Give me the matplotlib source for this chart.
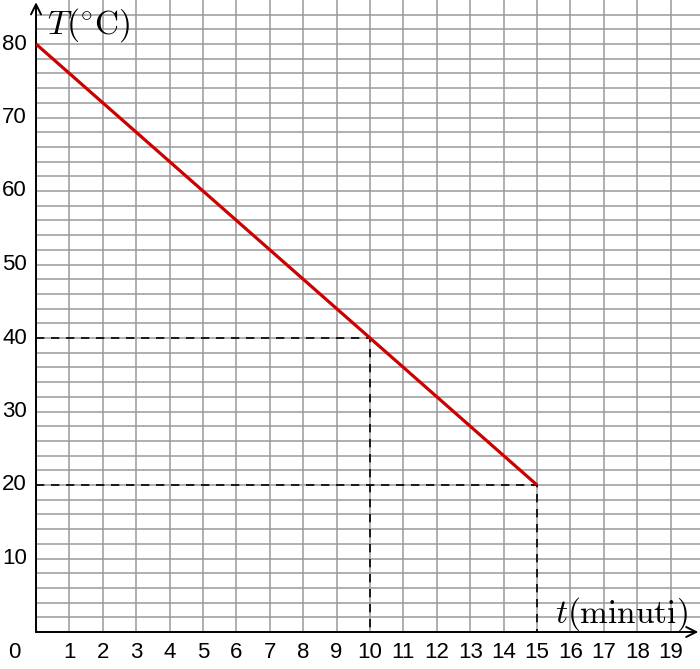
import matplotlib as mpl
mpl.use('Agg')
import matplotlib.pyplot as plt
import numpy as np

# cooling line (minutes, degrees C)
t_line = [0, 15]
T_line = [80, 20]
# dashed reading guides
guide_t = [10, 15]
guide_T = [40, 20]

xticks = list(range(1, 20))
yticks = [10, 20, 30, 40, 50, 60, 70, 80]

plt.rcParams['mathtext.fontset'] = 'cm'
plt.rcParams['font.family'] = ['Liberation Sans', 'DejaVu Sans']

fig = plt.figure(figsize=(7.0, 6.69), dpi=100)
W, H = 700, 669
x0, y0 = 36, 632
xmax = (700 - x0) / 33.4
ymax = y0 / 7.35
ax = fig.add_axes([x0 / W, (H - y0) / H, 1 - x0 / W, y0 / H])
ax.set_xlim(0, xmax)
ax.set_ylim(0, ymax)

# grid
for xv in xticks:
    ax.axvline(xv, color='#9a9a9a', lw=1.1, zorder=1)
for yv in np.arange(2, ymax, 2):
    ax.axhline(yv, color='#9a9a9a', lw=1.1, zorder=1)

for s in ax.spines.values():
    s.set_visible(False)
ax.set_xticks([])
ax.set_yticks([])

# axes with arrows
ax.annotate('', xy=(xmax - 0.05, 0), xytext=(0, 0),
            arrowprops=dict(arrowstyle='->', color='black', lw=1.4,
                            mutation_scale=18, shrinkA=0, shrinkB=0),
            annotation_clip=False, zorder=3)
ax.annotate('', xy=(0, ymax - 0.3), xytext=(0, 0),
            arrowprops=dict(arrowstyle='->', color='black', lw=1.4,
                            mutation_scale=18, shrinkA=0, shrinkB=0),
            annotation_clip=False, zorder=3)

# dashed guides
for gt, gT in zip(guide_t, guide_T):
    ax.plot([0, gt, gt], [gT, gT, 0], color='black', lw=1.2,
            ls=(0, (5, 4)), zorder=2, clip_on=False)

ax.plot(t_line, T_line, color='#cc0000', lw=2.3, zorder=4, solid_capstyle='butt')

# tick labels
fs = 16
for xv in xticks:
    ax.text(xv, -2.75, str(xv), ha='center', va='center', fontsize=fs)
for yv in yticks:
    ax.text(-0.64, yv, str(yv), ha='center', va='center', fontsize=fs)
ax.text(-0.64, -2.75, '0', ha='center', va='center', fontsize=fs)

ax.text(0.33, ymax - 34 / 7.35, r'$T(^{\circ}\mathrm{C})$', fontsize=24,
        ha='left', va='baseline', family='DejaVu Sans')
ax.text(15.55, 9 / 7.35, r'$t(\mathrm{minuti})$', fontsize=24,
        ha='left', va='baseline', family='DejaVu Sans')

fig.savefig('out.png', dpi=100)
